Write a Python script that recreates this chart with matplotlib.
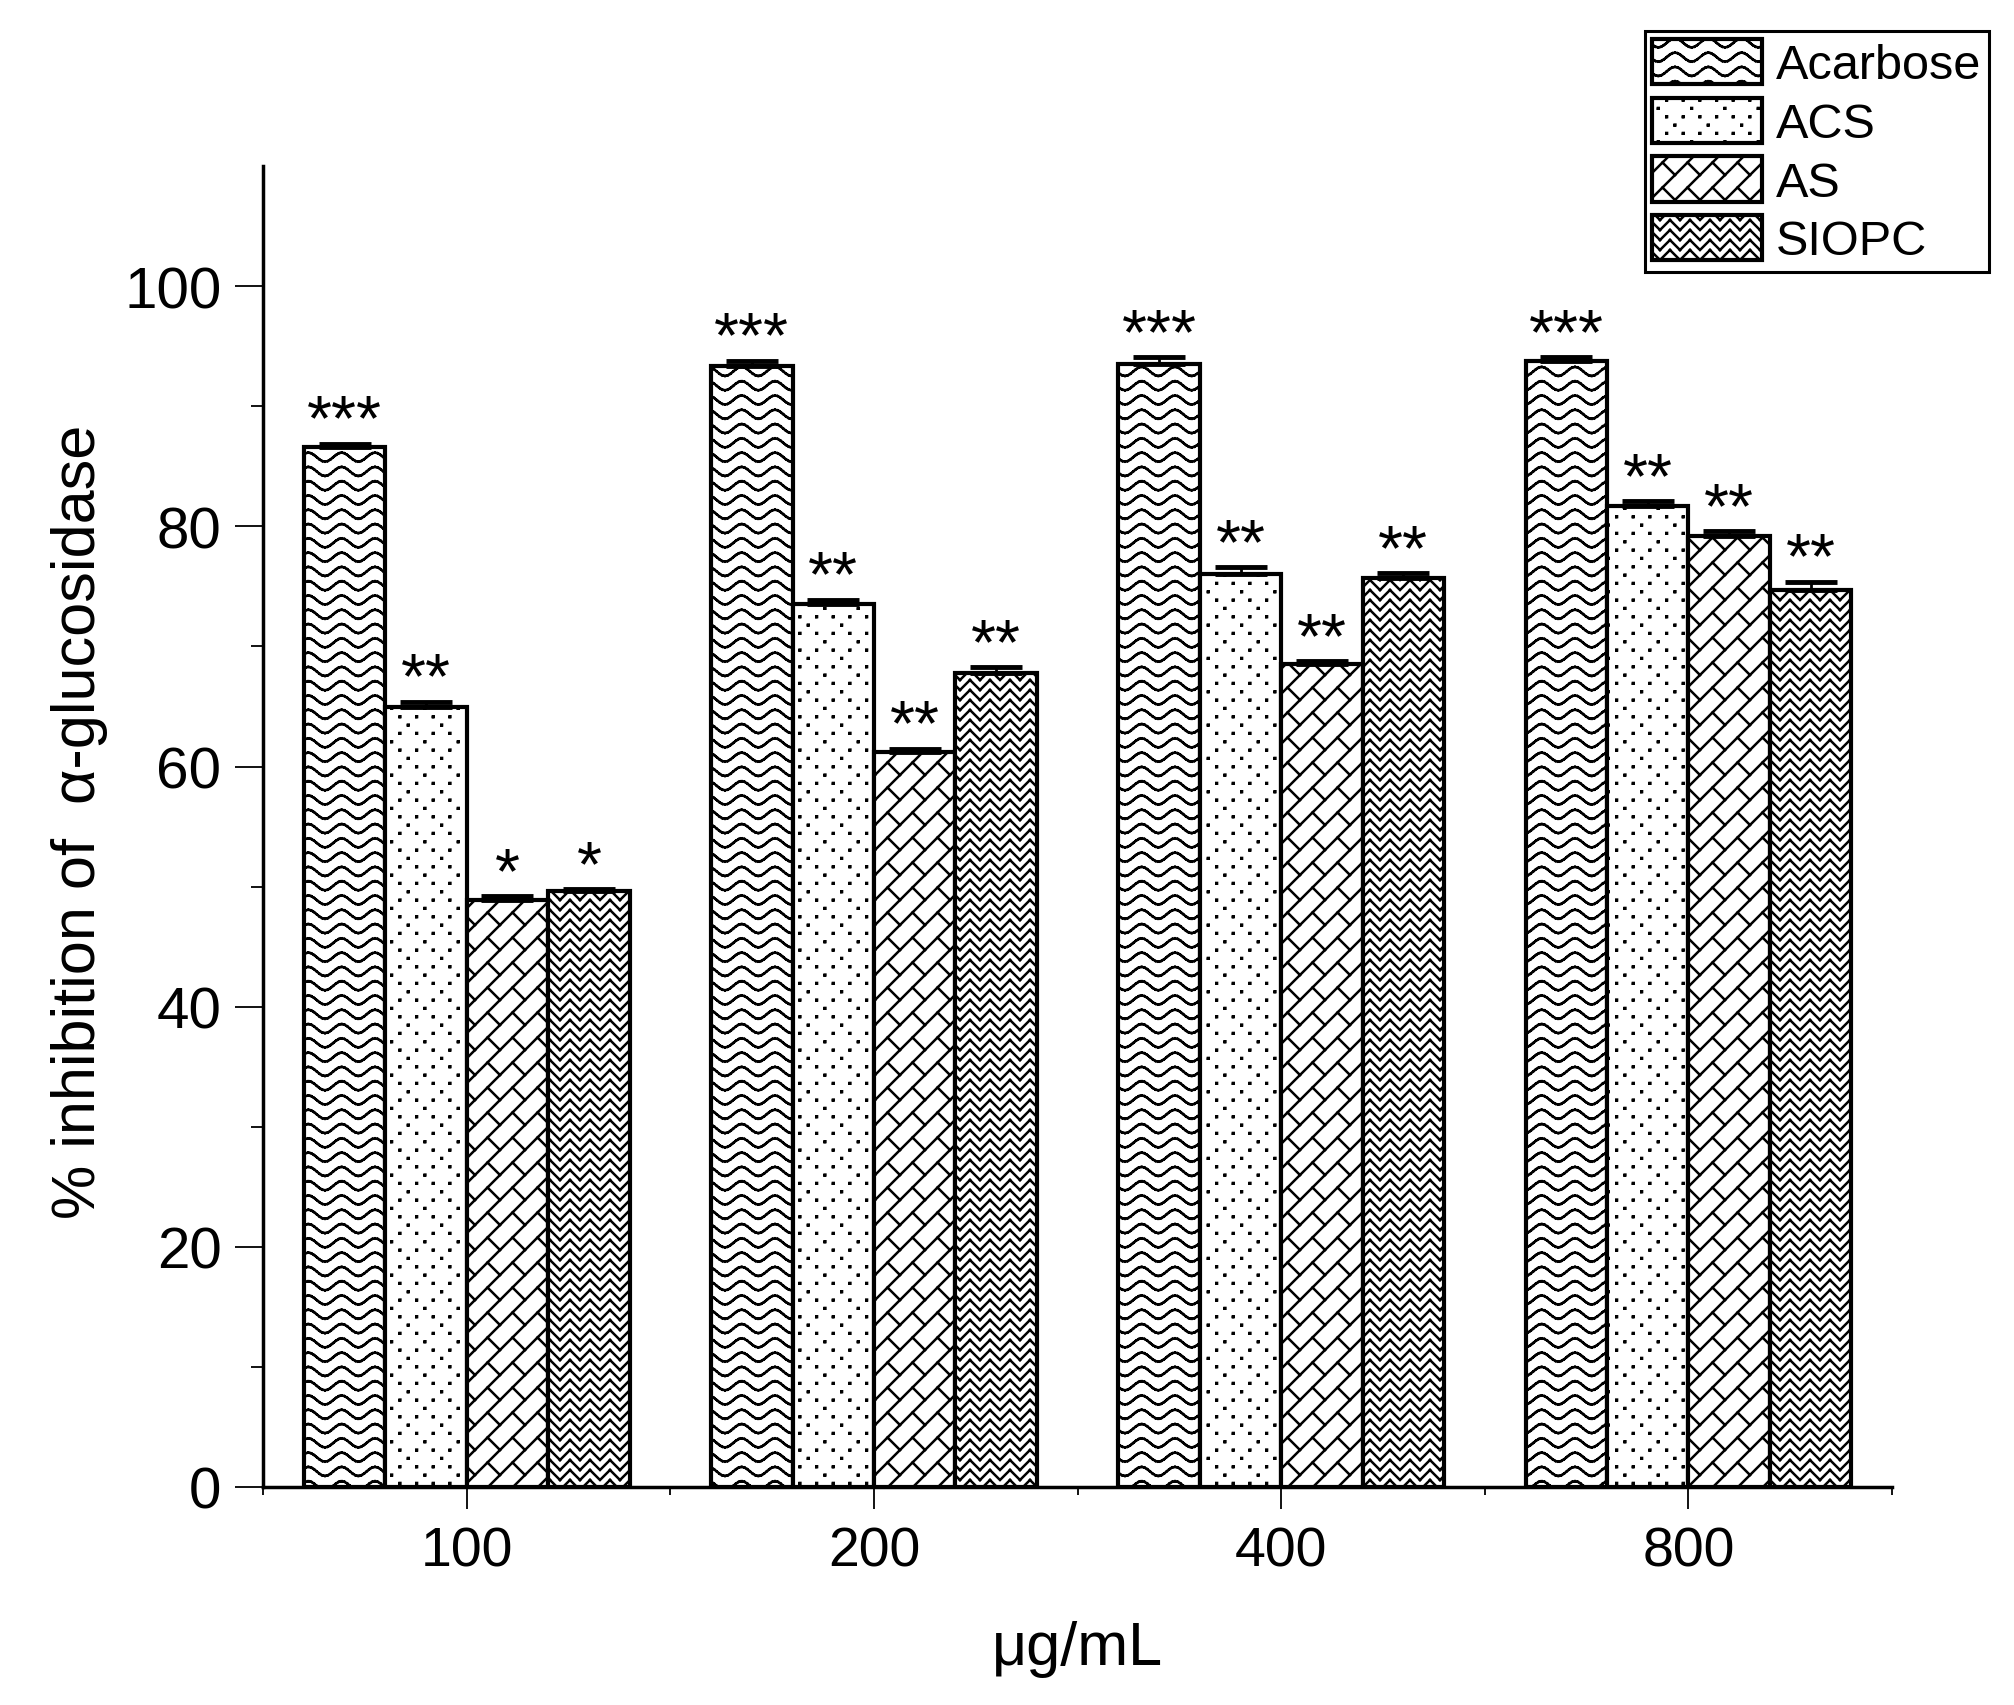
import warnings
import numpy as np
import matplotlib
matplotlib.use("Agg")
import matplotlib.pyplot as plt
from matplotlib import hatch as mhatch
from matplotlib.path import Path

warnings.filterwarnings("ignore")

# DATA
concentracoes = ["100", "200", "400", "800"]
series = ["Acarbose", "ACS", "AS", "SIOPC"]
acarbose = [86.6, 93.4, 93.5, 93.8]
acs = [65.0, 73.5, 76.0, 81.7]
as_ = [48.9, 61.2, 68.5, 79.2]
siopc = [49.6, 67.8, 75.7, 74.7]
err_acarbose = [0.3, 0.4, 0.6, 0.3]
err_acs = [0.4, 0.4, 0.6, 0.4]
err_as = [0.3, 0.3, 0.3, 0.4]
err_siopc = [0.2, 0.5, 0.4, 0.7]
sig_acarbose = ["***", "***", "***", "***"]
sig_acs = ["**", "**", "**", "**"]
sig_as = ["*", "**", "**", "**"]
sig_siopc = ["*", "**", "**", "**"]


# PADROES DE HACHURA (tile unitario, segmentos soltos)
def segs_to_arrays(segs):
    v = []
    c = []
    for seg in segs:
        for i, p in enumerate(seg):
            v.append(p)
            c.append(Path.MOVETO if i == 0 else Path.LINETO)
    return np.array(v, float), np.array(c, Path.code_type)


def wave_segs():
    segs = []
    xs = np.linspace(0, 1, 37)
    for r in range(0, 8):
        y0 = r / 7
        ys = y0 + 0.045 * np.sin(2 * np.pi * 3 * xs)
        for i in range(len(xs) - 1):
            segs.append([(xs[i], ys[i]), (xs[i + 1], ys[i + 1])])
    return segs


def dot_segs():
    segs = []
    s = 0.004
    for k in range(0, 13):
        y = k / 12
        if k % 2 == 0:
            xs = [j / 6 for j in range(0, 7)]
        elif k % 4 == 1:
            xs = [(2 * j + 0.5) / 6 for j in range(0, 3)]
        else:
            xs = [(2 * j + 1.5) / 6 for j in range(0, 3)]
        for x in xs:
            segs.append([(x - s, y - s), (x + s, y - s), (x + s, y + s), (x - s, y + s), (x - s, y - s)])
    return segs


def brick_segs():
    segs = []
    for k in range(-5, 6):
        c = k / 4
        segs.append([(-0.2, -0.2 + c), (1.2, 1.2 + c)])
        for m in range(-8, 9):
            t = m / 4
            if -0.3 < t < 1.3 and -0.3 < t + c < 1.3:
                segs.append([(t, t + c), (t - 1 / 8, t + c + 1 / 8)])
    return segs


def zig_segs():
    segs = []
    n = 10
    for r in range(-1, n + 1):
        y0 = r / n
        for j in range(n):
            x0 = j / n
            if j % 2 == 0:
                segs.append([(x0, y0), (x0 + 1 / n, y0 + 1 / n)])
            else:
                segs.append([(x0, y0 + 1 / n), (x0 + 1 / n, y0)])
    return segs


PADROES = {"w": wave_segs(), "d": dot_segs(), "b": brick_segs(), "h": zig_segs()}


class CustomHatch(mhatch.HatchPatternBase):
    def __init__(self, hatch, density):
        self.arrays = None
        for ch, segs in PADROES.items():
            if ch in hatch:
                self.arrays = segs_to_arrays(segs)
        self.num_vertices = 0 if self.arrays is None else len(self.arrays[0])

    def set_vertices_and_codes(self, vertices, codes):
        vertices[:] = self.arrays[0]
        codes[:] = self.arrays[1]


mhatch._hatch_types.append(CustomHatch)

# ESTILO
plt.rcParams["font.family"] = ["Liberation Sans", "DejaVu Sans"]
plt.rcParams["hatch.linewidth"] = 1.8
plt.rcParams["hatch.color"] = "black"

valores = [acarbose, acs, as_, siopc]
erros = [err_acarbose, err_acs, err_as, err_siopc]
sigs = [sig_acarbose, sig_acs, sig_as, sig_siopc]
hachuras = ["w", "d", "b", "h"]

fig = plt.figure(figsize=(20.15, 17.06), dpi=100)
ax = fig.add_axes([0.1306, 0.1278, 0.8084, 0.7742])

x = np.arange(len(concentracoes))
largura = 0.2
for i, nome in enumerate(series):
    pos = x + (i - 1.5) * largura
    ax.bar(pos, valores[i], largura, facecolor="white", edgecolor="black",
           linewidth=3, hatch=hachuras[i], label=nome, zorder=2)
    ax.errorbar(pos, valores[i], yerr=[np.zeros(len(x)), erros[i]], fmt="none",
                ecolor="black", elinewidth=2, capsize=19, capthick=3.5, zorder=3)
    for xp, v, e, s in zip(pos, valores[i], erros[i], sigs[i]):
        ax.annotate(s, (xp, v + e), xytext=(0, 3), textcoords="offset points",
                    ha="center", va="baseline", fontsize=46, zorder=4)

# EIXOS
ax.set_xlim(-0.5, 3.5)
ax.set_ylim(0, 110)
ax.set_xticks(x)
ax.set_xticklabels(concentracoes)
ax.set_xticks([-0.5, 0.5, 1.5, 2.5, 3.5], minor=True)
ax.set_yticks([0, 20, 40, 60, 80, 100])
ax.set_yticks([10, 30, 50, 70, 90], minor=True)
for lado in ["top", "right"]:
    ax.spines[lado].set_visible(False)
for lado in ["left", "bottom"]:
    ax.spines[lado].set_linewidth(2.5)
ax.tick_params(axis="x", which="major", length=16, width=1.3, pad=12, labelsize=40)
ax.tick_params(axis="x", which="minor", length=6, width=1.3)
ax.tick_params(axis="y", which="major", length=20, width=1.3, pad=10, labelsize=42)
ax.tick_params(axis="y", which="minor", length=9, width=1.3)

fig.text(0.0395, 0.518, "% inhibition of  α-glucosidase", rotation=90,
         ha="center", va="center", fontsize=44)
fig.text(0.5345, 0.033, "μg/mL", ha="center", va="center", fontsize=44)

# LEGENDA
leg = fig.legend(loc="upper right", bbox_to_anchor=(0.987, 0.981), fontsize=35,
                 handlelength=2.25, handleheight=1.05, handletextpad=0.3,
                 labelspacing=0.2, borderpad=0.15, borderaxespad=0,
                 fancybox=False, framealpha=1, edgecolor="black")
leg.get_frame().set_linewidth(2.2)

fig.savefig("out.png", dpi=100)
